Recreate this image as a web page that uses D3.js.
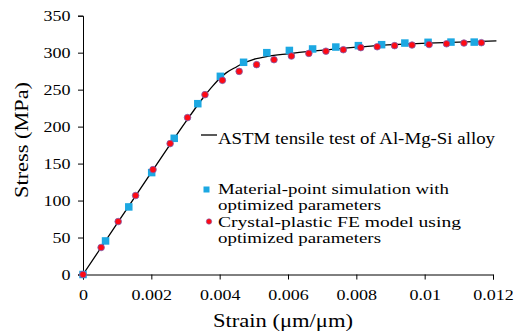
<!DOCTYPE html>
<html>
<head>
<meta charset="utf-8">
<script src="https://cdn.jsdelivr.net/npm/d3@7"></script>
<style>
  body { margin: 0; background: #fff; }
  text { font-family: "Liberation Serif", "Times New Roman", serif; }
</style>
</head>
<body>
<svg width="515" height="334"></svg>
<script>
// ASTM test curve (strain, stress MPa)
const testStrain = [0, 0.001, 0.002, 0.003, 0.0035, 0.0038, 0.004, 0.0042, 0.0045, 0.0047, 0.005, 0.0054, 0.006, 0.0067, 0.0074, 0.008, 0.0087, 0.0094, 0.0101, 0.011, 0.0121];
const testStress = [0, 69, 138, 206, 238, 255, 265, 273, 281, 286, 291, 295, 298.5, 302, 305, 307.5, 310, 311.5, 312.8, 314.3, 316];

// material-point simulation (squares)
const mpStrain = [0, 0.00066, 0.00134, 0.00201, 0.00267, 0.00336, 0.00402, 0.0047, 0.00538, 0.00604, 0.00672, 0.0074, 0.00806, 0.00874, 0.00942, 0.0101, 0.01077, 0.01145];
const mpStress = [0, 45.4, 91.4, 137.8, 184.2, 231, 268, 287, 300, 303, 305, 307.6, 309.5, 310.8, 313, 314, 314.3, 314.3];

// crystal-plastic FE model (circles)
const feStrain = [0, 0.00053, 0.00103, 0.00154, 0.00205, 0.00255, 0.00306, 0.00357, 0.00408, 0.00457, 0.00508, 0.00559, 0.0061, 0.00661, 0.00711, 0.00762, 0.00813, 0.00861, 0.00912, 0.00963, 0.01013, 0.01064, 0.01115, 0.01166];
const feStress = [0, 36.5, 71.6, 106.8, 141.9, 177, 212.2, 243.2, 262.6, 274.7, 283.8, 290.5, 295.4, 299, 302, 304, 306.8, 308, 309.5, 310.3, 311, 312, 313, 313.5];

const xTicks = [0, 0.002, 0.004, 0.006, 0.008, 0.01, 0.012];
const yTicks = [0, 50, 100, 150, 200, 250, 300, 350];

const legendText = ['ASTM tensile test of Al-Mg-Si alloy',
  ['Material-point simulation with', 'optimized parameters'],
  ['Crystal-plastic FE model using', 'optimized parameters']];

const svg = d3.select('svg');
const stretch = 1.2; // text in the picture is wider than plain Times

const x = d3.scaleLinear().domain([0, 0.012]).range([83, 493]);
const y = d3.scaleLinear().domain([0, 350]).range([274.5, 15.7]);

// axes
const xAxis = svg.append('g')
    .attr('transform', `translate(0,${y(0)})`)
    .call(d3.axisBottom(x).tickValues(xTicks).tickSize(5).tickFormat(d => String(+d.toFixed(3))));
const yAxis = svg.append('g')
    .attr('transform', `translate(${x(0)},0)`)
    .call(d3.axisLeft(y).tickValues(yTicks).tickSize(5));

svg.selectAll('.domain').attr('stroke', '#000').attr('stroke-width', 1);
svg.selectAll('.tick line').attr('stroke', '#000');
svg.selectAll('.tick text')
    .attr('fill', '#000')
    .style('font-family', '"Liberation Serif", serif')
    .style('font-size', '15px');
xAxis.selectAll('.tick text')
    .attr('y', 26).attr('dy', 0)
    .attr('transform', `scale(${stretch},1)`);
yAxis.selectAll('.tick text')
    .attr('x', -12.5 / stretch)
    .attr('transform', `scale(${stretch},1)`);

// axis titles
svg.append('text')
    .attr('x', 283)
    .attr('y', 327)
    .attr('text-anchor', 'middle')
    .attr('textLength', 140)
    .attr('lengthAdjust', 'spacingAndGlyphs')
    .text('Strain (μm/μm)')
    .style('font-size', '18.5px');
svg.append('text')
    .attr('transform', 'translate(28,140) rotate(-90)')
    .attr('text-anchor', 'middle')
    .attr('textLength', 116)
    .attr('lengthAdjust', 'spacingAndGlyphs')
    .text('Stress (MPa)')
    .style('font-size', '18.5px');

// test curve
const line = d3.line()
    .x((d, i) => x(testStrain[i]))
    .y(d => y(d))
    .curve(d3.curveMonotoneX);
svg.append('path')
    .datum(testStress)
    .attr('d', line)
    .attr('fill', 'none')
    .attr('stroke', '#000')
    .attr('stroke-width', 1.3);

// squares
const sq = 7.5;
svg.selectAll('rect.mp')
    .data(mpStress)
    .enter()
    .append('rect')
    .attr('class', 'mp')
    .attr('x', (d, i) => x(mpStrain[i]) - sq / 2)
    .attr('y', d => y(d) - sq / 2)
    .attr('width', sq)
    .attr('height', sq)
    .attr('fill', '#1CA8E2');

// circles
svg.selectAll('circle.fe')
    .data(feStress)
    .enter()
    .append('circle')
    .attr('class', 'fe')
    .attr('cx', (d, i) => x(feStrain[i]))
    .attr('cy', d => y(d))
    .attr('r', 3.3)
    .attr('fill', '#FF0A14')
    .attr('stroke', '#7B5FB0')
    .attr('stroke-width', 0.8);

// legend
const lg = svg.append('g');
lg.append('line')
    .attr('x1', 201).attr('x2', 217)
    .attr('y1', 135).attr('y2', 135)
    .attr('stroke', '#000').attr('stroke-width', 1.3);
lg.append('text')
    .attr('x', 218).attr('y', 144)
    .attr('textLength', 277)
    .attr('lengthAdjust', 'spacingAndGlyphs')
    .text(legendText[0])
    .style('font-size', '16px');

lg.append('rect')
    .attr('x', 206.5 - 3).attr('y', 189.5 - 3)
    .attr('width', 6).attr('height', 6)
    .attr('fill', '#1CA8E2');
lg.append('circle')
    .attr('cx', 209).attr('cy', 221.5)
    .attr('r', 2.7)
    .attr('fill', '#FF0A14')
    .attr('stroke', '#7B5FB0')
    .attr('stroke-width', 0.6);

const lens = [[231, 163], [243, 163]];
[[legendText[1], 194], [legendText[2], 227]].forEach(([lines, y0], k) => {
  lines.forEach((t, i) => {
    lg.append('text')
      .attr('x', 218).attr('y', y0 + i * 16)
      .attr('textLength', lens[k][i])
      .attr('lengthAdjust', 'spacingAndGlyphs')
      .text(t)
      .style('font-size', '14.8px');
  });
});
</script>
</body>
</html>
